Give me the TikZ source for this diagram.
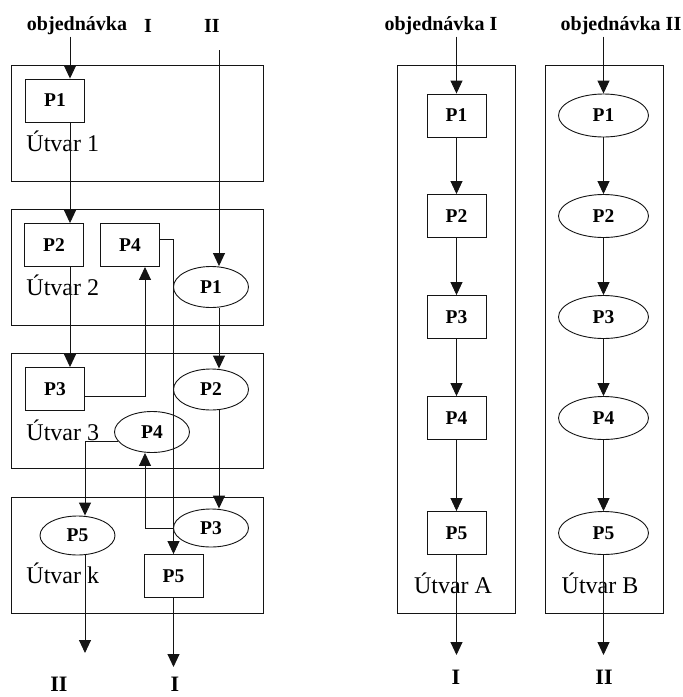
\documentclass[tikz,border=0pt]{standalone}
\usepackage{fontspec}
\setmainfont{Liberation Serif}
\usetikzlibrary{arrows.meta,positioning,shapes.geometric}
\definecolor{lnK}{RGB}{20,20,20}

\begin{document}
\begin{tikzpicture}[x=1pt,y=-1pt,line width=0.9pt,draw=lnK]
  \tikzset{
    utv/.style={draw=lnK,minimum width=#1,inner sep=0pt},
    proc/.style={draw=lnK,rectangle,minimum width=59,minimum height=43,inner sep=0pt,font=\bfseries\fontsize{19.5}{21}\selectfont},
    oper/.style={draw=lnK,ellipse,minimum width=#1,minimum height=41,inner sep=0pt,font=\bfseries\fontsize{19.5}{21}\selectfont},
    oper/.default=75,
    lbl/.style={font=\bfseries\fontsize{20}{22}\selectfont,inner sep=1pt},
    outl/.style={font=\bfseries\fontsize{22}{24}\selectfont,inner sep=1pt},
    dept/.style={font=\fontsize{24}{26}\selectfont,inner sep=0pt},
    flow/.style={-{Triangle[length=13pt,width=12pt]},draw=lnK}
  }
  \useasboundingbox (0,0) rectangle (683,697);

  % x positions of the vertical flow lines
  \coordinate (xa) at (70,0);
  \coordinate (xb) at (145,0);
  \coordinate (xd) at (219,0);
  \coordinate (xe) at (85,0);

  % ---- left: departments stacked, two orders crossing them
  \node[utv=252,minimum height=116] (u1) at (137,123) {};
  \node[utv=252,minimum height=116] (u2) at (137,267) {};
  \node[utv=252,minimum height=115] (u3) at (137,410.5) {};
  \node[utv=252,minimum height=116] (uk) at (137,555) {};
  \node[dept,anchor=west] (t1) at (26,141) {Útvar 1};
  \node[dept,anchor=west] (t2) at (26,285) {Útvar 2};
  \node[dept,anchor=west] (t3) at (26,430) {Útvar 3};
  \node[dept,anchor=west] (tk) at (26,573) {Útvar k};

  \node[lbl] (objL) at (77,26) {objednávka};
  \node[lbl] (ordI) at (148,26) {I};
  \node[lbl] (ordII) at (212,26) {II};
  \coordinate (inII) at (219,50);

  % order I: rectangles
  \node[proc] (p1a) at (55,100.5) {P1};
  \node[proc] (p2a) at (54,245) {P2};
  \node[proc] (p4a) at (130,245) {P4};
  \node[proc] (p3a) at (55,389) {P3};
  \node[proc] (p5a) at (173.5,576) {P5};
  % order II: ellipses
  \node[oper] (q1) at (211,287) {P1};
  \node[oper] (q2) at (211,389.5) {P2};
  \node[oper] (q4) at (152,432) {P4};
  \node[oper,minimum height=38] (q3) at (211,528) {P3};
  \node[oper,minimum height=39] (q5) at (77.5,535.5) {P5};

  \coordinate (outI) at (173.5,667);
  \coordinate (outII) at (85,653);
  \node[outl] (endI) at (175,684) {I};
  \node[outl] (endII) at (59,684) {II};

  \draw[flow] (objL.south -| xa) -- (p1a.north -| xa);
  \draw[flow] (p1a.south -| xa) -- (p2a.north -| xa);
  \draw[flow] (p2a.south -| xa) -- (p3a.north -| xa);
  \draw[flow] ([yshift=-7pt]p3a.east) -| (p4a.south -| xb);
  \draw[flow] ([yshift=6pt]p4a.east) -| (p5a.north);
  \draw[flow] (p5a.south) -- (outI);

  \draw[flow] (inII) -- (inII |- q1.north);
  \draw[flow] (q1.south -| xd) -- (q2.north -| xd);
  \draw[flow] (q2.south -| xd) -- (q3.north -| xd);
  \draw[flow] (q3.west) -| (q4.south -| xb);
  \draw[flow] (q4.195) -| (q5.north -| xe);
  \draw[flow] (q5.south -| xe) -- (outII);

  % ---- right: one department per order
  \node[utv=118,minimum height=548] (uA) at (456,339) {};
  \node[utv=118,minimum height=548] (uB) at (604,339) {};
  \node[dept] (tA) at (453,583) {Útvar A};
  \node[dept] (tB) at (600,583) {Útvar B};
  \node[lbl] (objA) at (441,26) {objednávka I};
  \node[lbl] (objB) at (621,26) {objednávka II};

  \foreach \i/\y in {1/115.5,2/216,3/317,4/418,5/533} {
    \node[proc] (a\i) at (456.5,\y) {P\i};
    \node[oper=90,minimum height=43] (b\i) at (603.5,\y) {P\i};
  }
  \foreach \i/\j in {1/2,2/3,3/4,4/5} {
    \draw[flow] (a\i) -- (a\j);
    \draw[flow] (b\i) -- (b\j);
  }
  \coordinate (outA) at (456.5,655);
  \coordinate (outB) at (603.5,655);
  \draw[flow] (objA.south -| a1) -- (a1.north);
  \draw[flow] (objB.south -| b1) -- (b1.north);
  \draw[flow] (a5.south) -- (outA);
  \draw[flow] (b5.south) -- (outB);
  \node[outl] (endA) at (456,677) {I};
  \node[outl] (endB) at (604,677) {II};
\end{tikzpicture}
\end{document}
